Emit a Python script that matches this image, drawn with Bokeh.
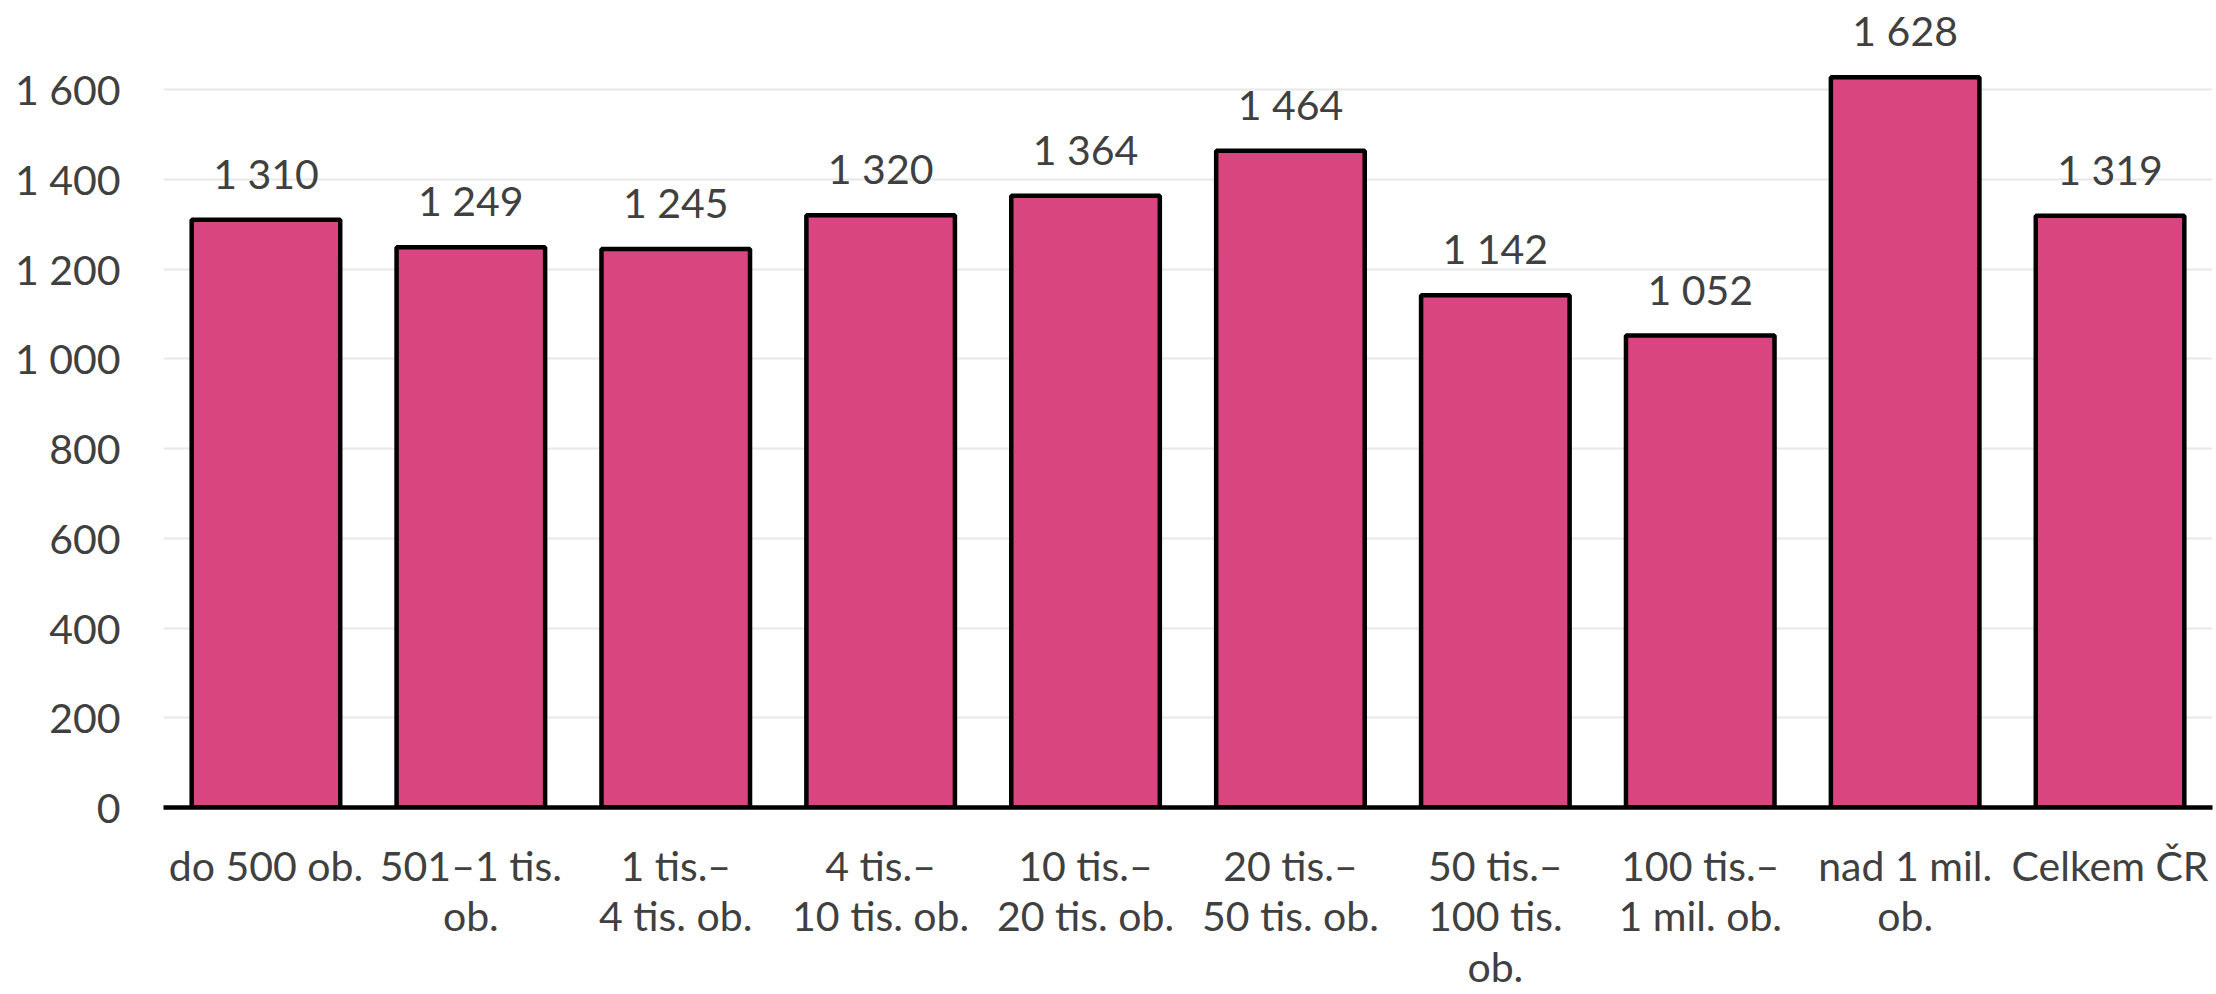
from bokeh.plotting import figure
from bokeh.models import ColumnDataSource, Range1d, FactorRange, FixedTicker, LabelSet
from bokeh.core.properties import value
from bokeh.embed import file_html
from bokeh.resources import INLINE

categories = [
    "do 500 ob.",
    "501\u20131 tis.\nob.",
    "1 tis.\u2013\n4 tis. ob.",
    "4 tis.\u2013\n10 tis. ob.",
    "10 tis.\u2013\n20 tis. ob.",
    "20 tis.\u2013\n50 tis. ob.",
    "50 tis.\u2013\n100 tis.\nob.",
    "100 tis.\u2013\n1 mil. ob.",
    "nad 1 mil.\nob.",
    "Celkem \u010cR",
]
values = [1310, 1249, 1245, 1320, 1364, 1464, 1142, 1052, 1628, 1319]
y_ticks = [0, 200, 400, 600, 800, 1000, 1200, 1400, 1600]

def fmt(v):
    return f"{v:,}".replace(",", " ")

FONT = "Lato"
TXT = "#404040"
FS = "41px"

src = ColumnDataSource(dict(
    cat=categories,
    val=values,
    lab=[fmt(v) for v in values],
))

p = figure(
    width=2216, height=994,
    x_range=FactorRange(*categories, range_padding=0.0),
    y_range=Range1d(0, 1799),
    output_backend="svg", toolbar_location=None,
    min_border_left=163, min_border_right=4, min_border_top=0, min_border_bottom=182,
)
p.outline_line_color = None
p.background_fill_color = "white"
p.border_fill_color = "white"

p.vbar(x="cat", top="val", width=0.725, source=src,
       fill_color="#D8457F", line_color="black", line_width=4.5)

# Y axis
p.yaxis.ticker = FixedTicker(ticks=y_ticks)
p.yaxis.major_label_overrides = {t: fmt(t) for t in y_ticks}
p.yaxis.axis_line_color = None
p.yaxis.major_tick_line_color = None
p.yaxis.minor_tick_line_color = None
p.yaxis.major_tick_in = 0
p.yaxis.major_tick_out = 0
p.yaxis.major_label_standoff = 43
p.yaxis.major_label_text_font = FONT
p.yaxis.major_label_text_font_size = FS
p.yaxis.major_label_text_color = TXT

p.ygrid.grid_line_color = "#E8E8E8"
p.ygrid.grid_line_width = 2
p.xgrid.grid_line_color = None

# X axis
p.xaxis.axis_line_color = "black"
p.xaxis.axis_line_width = 4.5
p.xaxis.major_tick_line_color = None
p.xaxis.minor_tick_line_color = None
p.xaxis.major_tick_in = 0
p.xaxis.major_tick_out = 0
p.xaxis.major_label_standoff = 33
p.xaxis.major_label_text_font = FONT
p.xaxis.major_label_text_font_size = FS
p.xaxis.major_label_text_color = TXT
p.xaxis.major_label_text_line_height = 1.04

# value labels
p.add_layout(LabelSet(x="cat", y="val", text="lab", source=src,
                      y_offset=31, text_align="center", text_baseline="alphabetic",
                      text_font=value(FONT), text_font_size=value(FS),
                      text_color=value(TXT)))

open("out.html", "w").write(file_html(p, INLINE))
